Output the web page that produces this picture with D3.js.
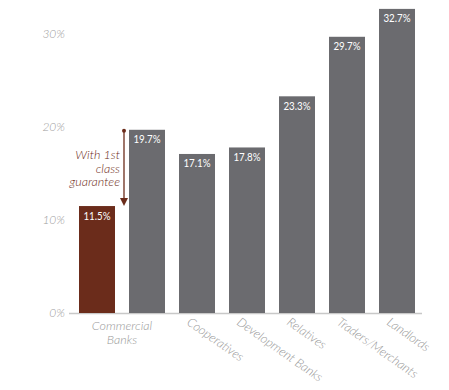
<!DOCTYPE html>
<html><head><meta charset="utf-8">
<script src="https://cdn.jsdelivr.net/npm/d3@7"></script>
<style>
body{margin:0;background:#fff;}
svg{display:block;}
</style></head>
<body><svg id="c" width="449" height="390"></svg>
<script>
const barKeys = ["cb_guarantee","cb","coop","dev","rel","trad","land"];
const barValues = [11.5, 19.7, 17.1, 17.8, 23.3, 29.7, 32.7];
const barLabels = ["11.5%","19.7%","17.1%","17.8%","23.3%","29.7%","32.7%"];
const categoryLabels = ["Cooperatives","Development Banks","Relatives","Traders/Merchants","Landlords"];
const categoryKeys = ["coop","dev","rel","trad","land"];
const groupLabel = ["Commercial","Banks"];
const yTicks = [0,10,20,30];
const annotation = ["With 1st","class","guarantee"];

const svg = d3.select("#c");
const x = d3.scaleBand().domain(barKeys).range([72,422]).paddingInner(0.28).paddingOuter(0.14);
const y = d3.scaleLinear().domain([0,30]).range([313,34]);
const brown = "#6b2c1b", gray = "#6b6b6f";
const tickFont = "Lato, 'Open Sans', sans-serif";

// axis baseline
svg.append("line").attr("x1",69).attr("x2",422).attr("y1",y(0)+0.5).attr("y2",y(0)+0.5)
  .attr("stroke","#c8c8c8").attr("stroke-width",1.5);

// y tick labels
const yAxis = d3.axisLeft(y).tickValues(yTicks).tickFormat(d=>d+"%").tickSize(0).tickPadding(0);
const ga = svg.append("g").attr("transform","translate(65,0)").call(yAxis);
ga.select(".domain").remove();
ga.selectAll("text").attr("font-family",tickFont).attr("font-style","italic").attr("font-weight",300)
  .attr("font-size",12).attr("fill","#a0a0a0");

// bars
svg.selectAll("rect.bar").data(barKeys).enter().append("rect")
  .attr("x",d=>x(d)).attr("width",x.bandwidth())
  .attr("y",(d,i)=>y(barValues[i])).attr("height",(d,i)=>y(0)-y(barValues[i]))
  .attr("fill",(d,i)=>i===0?brown:gray);

// value labels (horizontally condensed)
svg.selectAll("text.val").data(barKeys).enter().append("text")
  .attr("transform",(d,i)=>`translate(${x(d)+x.bandwidth()/2},${y(barValues[i])+13.5}) scale(0.85,1)`)
  .attr("text-anchor","middle").attr("fill","#fff")
  .attr("font-family",tickFont).attr("font-weight",400)
  .attr("font-size",11.5)
  .text((d,i)=>barLabels[i]);

// annotation arrow
const ax = x("cb") - 5;
const yTop = y(barValues[1]) + 1, yBot = y(barValues[0]);
svg.append("line").attr("x1",ax).attr("x2",ax).attr("y1",yTop).attr("y2",yBot-6)
  .attr("stroke",brown).attr("stroke-width",1.3);
svg.append("circle").attr("cx",ax).attr("cy",yTop).attr("r",2).attr("fill",brown);
svg.append("path").attr("d",`M${ax-4},${yBot-8}L${ax+4},${yBot-8}L${ax},${yBot}Z`).attr("fill",brown);
svg.selectAll("text.ann").data(annotation).enter().append("text")
  .attr("x",ax-4).attr("y",(d,i)=>159+i*13.5).attr("text-anchor","end")
  .attr("font-family",tickFont).attr("font-style","italic").attr("font-weight",300).attr("font-size",12.5)
  .attr("fill","#6e2c20").text(d=>d);

// category labels
const cx = (x("cb_guarantee")+x("cb")+x.bandwidth())/2;
svg.selectAll("text.grp").data(groupLabel).enter().append("text")
  .attr("x",cx).attr("y",(d,i)=>330+i*13.5).attr("text-anchor","middle")
  .attr("font-family",tickFont).attr("font-style","italic").attr("font-weight",300)
  .attr("font-size",12.5).attr("fill","#999").text(d=>d);

svg.selectAll("text.cat").data(categoryKeys).enter().append("text")
  .attr("transform",d=>`translate(${x(d)+x.bandwidth()/2-11},324) rotate(35)`)
  .attr("text-anchor","start")
  .attr("font-family",tickFont).attr("font-style","italic").attr("font-weight",300)
  .attr("font-size",12.5).attr("fill","#999").text((d,i)=>categoryLabels[i]);
</script></body></html>
